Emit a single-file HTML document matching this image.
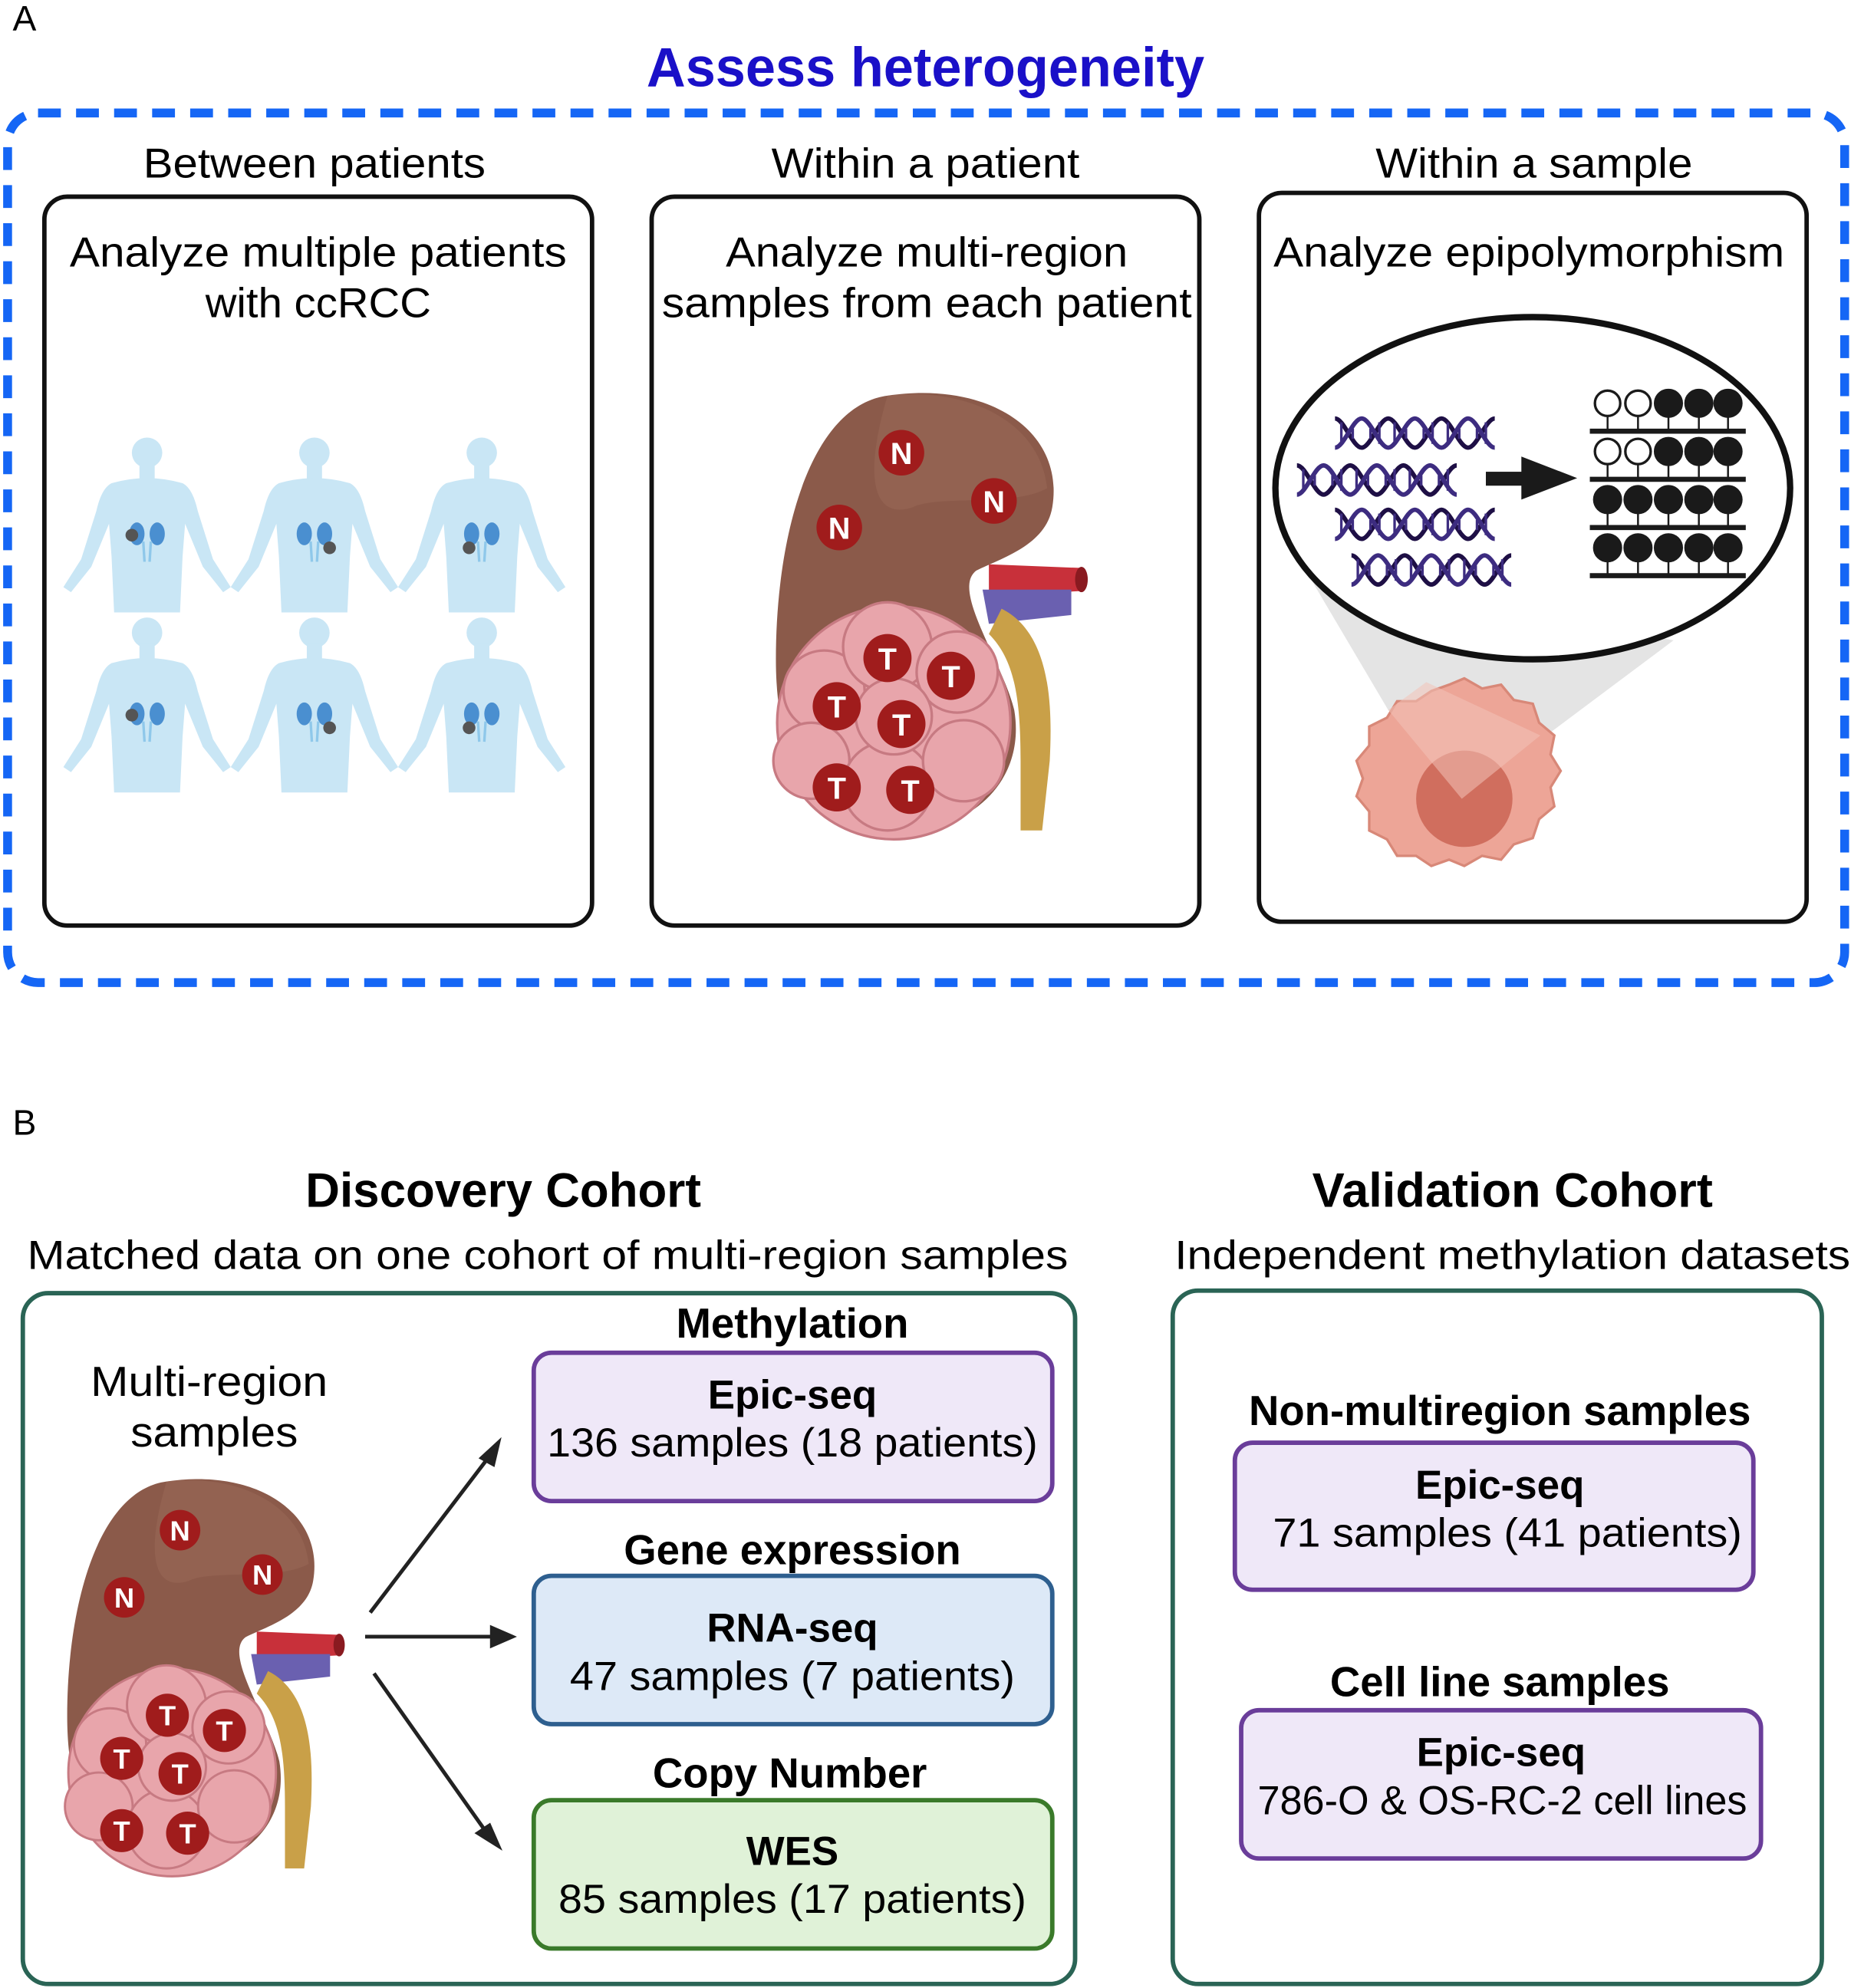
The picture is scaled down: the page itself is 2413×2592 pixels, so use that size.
<!DOCTYPE html>
<html><head><meta charset="utf-8"><style>
html,body{margin:0;padding:0;background:#fff;}
svg{display:block;}
text{font-family:"Liberation Sans",sans-serif;}
</style></head><body>
<svg width="2413" height="2592" viewBox="0 0 1460 1568" xmlns="http://www.w3.org/2000/svg">
<defs>
  <g id="human" fill="#c9e6f5">
    <circle cx="0" cy="14" r="12"/>
    <rect x="-6" y="22" width="12" height="14"/>
    <path d="M-28,38 Q0,30 28,38 Q36,42 40,60 L52,98 L66,120 L60,124 L44,104 L30,70 L28,96 L26,140 L-26,140 L-28,96 L-30,70 L-44,104 L-60,124 L-66,120 L-52,98 L-40,60 Q-36,42 -28,38 Z"/>
    <ellipse cx="-8" cy="78" rx="6" ry="9" fill="#4a8fd0"/>
    <ellipse cx="8" cy="78" rx="6" ry="9" fill="#4a8fd0"/>
    <path d="M-3,84 L-2,100 M3,84 L2,100" stroke="#8fc8ea" stroke-width="2" fill="none"/>
  </g>
  <g id="kidney">
    <path d="M780,445 L855,448 L855,466 L780,470 Z" fill="#c8303a"/>
    <ellipse cx="853" cy="457" rx="5" ry="10" fill="#8a1a20"/>
    <path d="M775,465 L845,465 L845,485 L780,492 Z" fill="#6a60b0"/>
    <path d="M790,480 C830,500 830,560 828,600 L822,655 L805,655 L805,600 C805,550 800,520 780,500 Z" fill="#c9a048"/>
    <path d="M700,312 C780,300 840,340 830,400 C825,430 790,440 770,450 C750,465 790,520 800,560 C810,620 760,660 700,655 C640,650 612,600 612,520 C612,420 640,320 700,312 Z" fill="#8b5a4a"/>
    <path d="M700,312 C760,305 820,330 826,385 C800,400 740,390 720,400 C690,410 680,380 700,312 Z" fill="#9c6a58" opacity="0.5"/>
    <g fill="#e8a5ab" stroke="#c77a82" stroke-width="2">
      <circle cx="705" cy="570" r="92"/>
      <circle cx="650" cy="545" r="32"/><circle cx="700" cy="510" r="35"/><circle cx="755" cy="530" r="32"/>
      <circle cx="640" cy="600" r="30"/><circle cx="700" cy="620" r="35"/><circle cx="760" cy="600" r="32"/>
      <circle cx="705" cy="565" r="30"/>
    </g>
  </g>
  <g id="dna" fill="none" stroke-width="3.5">
    <path d="M0,2 C7,2 14,25 21,25 C28,25 35,2 42,2 C49,2 56,25 63,25 C70,25 77,2 84,2 C91,2 98,25 105,25 C112,25 119,2 126,2" stroke="#1e0f45"/>
    <path d="M0,25 C7,25 14,2 21,2 C28,2 35,25 42,25 C49,25 56,2 63,2 C70,2 77,25 84,25 C91,25 98,2 105,2 C112,2 119,25 126,25" stroke="#3d2c80"/>
    <path d="M5,5V22M14,10V18M28,10V18M35,5V22M47,5V22M56,10V18M70,10V18M77,5V22M89,5V22M98,10V18M112,10V18M119,5V22" stroke="#3d2c80" stroke-width="2"/>
  </g>
</defs>

<!-- A -->
<text x="10" y="24" font-size="28">A</text>
<text x="730" y="68" font-size="44" font-weight="bold" fill="#1a10c8" text-anchor="middle" textLength="440" lengthAdjust="spacingAndGlyphs">Assess heterogeneity</text>
<rect x="6" y="89" width="1449" height="686" rx="24" fill="none" stroke="#1566f5" stroke-width="7" stroke-dasharray="18 12"/>

<g font-size="33" text-anchor="middle" lengthAdjust="spacingAndGlyphs">
<text x="248" y="140" textLength="270" lengthAdjust="spacingAndGlyphs">Between patients</text>
<text x="730" y="140" textLength="243" lengthAdjust="spacingAndGlyphs">Within a patient</text>
<text x="1210" y="140" textLength="250" lengthAdjust="spacingAndGlyphs">Within a sample</text>
</g>
<g fill="none" stroke="#111" stroke-width="3.5">
<rect x="35" y="155" width="432" height="575" rx="18"/>
<rect x="514" y="155" width="432" height="575" rx="18"/>
<rect x="993" y="152" width="432" height="575" rx="18"/>
</g>
<g font-size="33" text-anchor="middle">
<text x="251" y="210" textLength="392" lengthAdjust="spacingAndGlyphs">Analyze multiple patients</text>
<text x="251" y="250" textLength="178" lengthAdjust="spacingAndGlyphs">with ccRCC</text>
<text x="731" y="210" textLength="317" lengthAdjust="spacingAndGlyphs">Analyze multi-region</text>
<text x="731" y="250" textLength="418" lengthAdjust="spacingAndGlyphs">samples from each patient</text>
<text x="1206" y="210" textLength="403" lengthAdjust="spacingAndGlyphs">Analyze epipolymorphism</text>
</g>

<use href="#human" x="116" y="343"/><use href="#human" x="248" y="343"/><use href="#human" x="380" y="343"/>
<use href="#human" x="116" y="485"/><use href="#human" x="248" y="485"/><use href="#human" x="380" y="485"/>
<g fill="#555"><circle cx="104" cy="422" r="5"/><circle cx="260" cy="432" r="5"/><circle cx="370" cy="432" r="5"/><circle cx="104" cy="564" r="5"/><circle cx="260" cy="574" r="5"/><circle cx="370" cy="574" r="5"/></g>

<use href="#kidney"/>
<g font-size="24" font-weight="bold" fill="#fff" text-anchor="middle">
<g fill="#a01c1c"><circle cx="711" cy="357" r="18"/><circle cx="784" cy="395" r="18"/><circle cx="662" cy="416" r="18"/>
<circle cx="700" cy="519" r="19"/><circle cx="750" cy="533" r="19"/><circle cx="660" cy="557" r="19"/><circle cx="711" cy="571" r="19"/><circle cx="660" cy="621" r="19"/><circle cx="718" cy="623" r="19"/></g>
<text x="711" y="366">N</text><text x="784" y="404">N</text><text x="662" y="425">N</text>
<text x="700" y="528">T</text><text x="750" y="542">T</text><text x="660" y="566">T</text><text x="711" y="580">T</text><text x="660" y="630">T</text><text x="718" y="632">T</text>
</g>

<!-- panel 3 -->
<polygon points="1030,450 1320,505 1153,630 1095,560" fill="#e4e4e4"/>
<path d="M1143,540 l12,-5 l14,8 l15,-3 l10,12 l15,3 l5,15 l12,10 l-3,15 l8,13 l-8,13 l3,15 l-12,10 l-5,15 l-15,5 l-10,12 l-15,-3 l-14,8 l-12,-5 l-14,5 l-12,-8 l-15,0 l-8,-13 l-14,-7 l0,-15 l-10,-12 l5,-14 l-5,-14 l10,-12 l0,-15 l14,-7 l8,-13 l15,0 l12,-8 Z" fill="#eda597" stroke="#d88878" stroke-width="2"/>
<circle cx="1155" cy="630" r="38" fill="#d06e5e"/>
<polygon points="1095,560 1125,538 1215,580 1153,630" fill="#f3c3b8" opacity="0.55"/>
<ellipse cx="1209" cy="385" rx="203" ry="135" fill="#fff" stroke="#111" stroke-width="5"/>
<use href="#dna" x="1053" y="328"/><use href="#dna" x="1023" y="365"/><use href="#dna" x="1053" y="400"/><use href="#dna" x="1066" y="436"/>
<rect x="1172" y="372" width="38" height="11" fill="#1a1a1a"/>
<polygon points="1200,360 1244,377 1200,394" fill="#1a1a1a"/>
<g fill="#1a1a1a" stroke="#1a1a1a">
  <g stroke-width="4"><line x1="1254" y1="340" x2="1377" y2="340"/><line x1="1254" y1="378" x2="1377" y2="378"/><line x1="1254" y1="416" x2="1377" y2="416"/><line x1="1254" y1="454" x2="1377" y2="454"/></g>
  <g stroke-width="1.5">
   <path d="M1268,322V340M1292,322V340M1316,322V340M1340,322V340M1363,322V340M1268,360V378M1292,360V378M1316,360V378M1340,360V378M1363,360V378M1268,398V416M1292,398V416M1316,398V416M1340,398V416M1363,398V416M1268,436V454M1292,436V454M1316,436V454M1340,436V454M1363,436V454"/>
  </g>
  <circle cx="1268" cy="318" r="10" fill="#fff" stroke-width="2"/><circle cx="1292" cy="318" r="10" fill="#fff" stroke-width="2"/>
  <circle cx="1316" cy="318" r="11"/><circle cx="1340" cy="318" r="11"/><circle cx="1363" cy="318" r="11"/>
  <circle cx="1268" cy="356" r="10" fill="#fff" stroke-width="2"/><circle cx="1292" cy="356" r="10" fill="#fff" stroke-width="2"/>
  <circle cx="1316" cy="356" r="11"/><circle cx="1340" cy="356" r="11"/><circle cx="1363" cy="356" r="11"/>
  <circle cx="1268" cy="394" r="11"/><circle cx="1292" cy="394" r="11"/><circle cx="1316" cy="394" r="11"/><circle cx="1340" cy="394" r="11"/><circle cx="1363" cy="394" r="11"/>
  <circle cx="1268" cy="432" r="11"/><circle cx="1292" cy="432" r="11"/><circle cx="1316" cy="432" r="11"/><circle cx="1340" cy="432" r="11"/><circle cx="1363" cy="432" r="11"/>
</g>

<!-- B -->
<text x="10" y="895" font-size="28">B</text>
<text x="397" y="952" font-size="38" font-weight="bold" text-anchor="middle" textLength="312" lengthAdjust="spacingAndGlyphs">Discovery Cohort</text>
<text x="432" y="1001" font-size="32" text-anchor="middle" textLength="821" lengthAdjust="spacingAndGlyphs">Matched data on one cohort of multi-region samples</text>
<text x="1193" y="952" font-size="38" font-weight="bold" text-anchor="middle" textLength="316" lengthAdjust="spacingAndGlyphs">Validation Cohort</text>
<text x="1193" y="1001" font-size="32" text-anchor="middle" textLength="533" lengthAdjust="spacingAndGlyphs">Independent methylation datasets</text>
<rect x="18" y="1020" width="830" height="545" rx="20" fill="none" stroke="#2a6455" stroke-width="3.5"/>
<rect x="925" y="1018" width="512" height="547" rx="20" fill="none" stroke="#2a6455" stroke-width="3.5"/>

<text x="165" y="1101" font-size="33" text-anchor="middle" textLength="187" lengthAdjust="spacingAndGlyphs">Multi-region</text>
<text x="169" y="1141" font-size="33" text-anchor="middle" textLength="132" lengthAdjust="spacingAndGlyphs">samples</text>
<use href="#kidney" transform="translate(53,1165) scale(0.89) translate(-612,-308)"/>
<g font-size="22" font-weight="bold" fill="#fff" text-anchor="middle">
<g fill="#a01c1c"><circle cx="142" cy="1207" r="16"/><circle cx="207" cy="1242" r="16"/><circle cx="98" cy="1260" r="16"/>
<circle cx="132" cy="1353" r="17"/><circle cx="177" cy="1365" r="17"/><circle cx="96" cy="1387" r="17"/><circle cx="142" cy="1399" r="17"/><circle cx="96" cy="1444" r="17"/><circle cx="148" cy="1446" r="17"/></g>
<text x="142" y="1215">N</text><text x="207" y="1250">N</text><text x="98" y="1268">N</text>
<text x="132" y="1361">T</text><text x="177" y="1373">T</text><text x="96" y="1395">T</text><text x="142" y="1407">T</text><text x="96" y="1452">T</text><text x="148" y="1454">T</text>
</g>

<g stroke="#222" stroke-width="3" fill="#222">
<line x1="292" y1="1272" x2="385" y2="1150"/><polygon points="393,1138 380,1150 389,1155" />
<line x1="288" y1="1291" x2="390" y2="1291"/><polygon points="404,1291 388,1284 388,1298"/>
<line x1="295" y1="1320" x2="382" y2="1443"/><polygon points="393,1456 377,1446 386,1440"/>
</g>

<g font-size="33" text-anchor="middle" font-weight="bold">
<text x="625" y="1055">Methylation</text>
<text x="625" y="1234">Gene expression</text>
<text x="623" y="1410">Copy Number</text>
<text x="1183" y="1124">Non-multiregion samples</text>
<text x="1183" y="1338">Cell line samples</text>
</g>
<rect x="421" y="1067" width="409" height="117" rx="14" fill="#efe8f8" stroke="#6a3d9a" stroke-width="3.5"/>
<rect x="421" y="1243" width="409" height="117" rx="14" fill="#dde9f7" stroke="#2e5f8f" stroke-width="3.5"/>
<rect x="421" y="1420" width="409" height="117" rx="14" fill="#e0f2d8" stroke="#3a7a2a" stroke-width="3.5"/>
<rect x="974" y="1138" width="409" height="116" rx="14" fill="#efe8f8" stroke="#6a3d9a" stroke-width="3.5"/>
<rect x="979" y="1349" width="410" height="117" rx="14" fill="#efe8f8" stroke="#6a3d9a" stroke-width="3.5"/>
<g font-size="32" text-anchor="middle">
<text x="625" y="1111" font-weight="bold">Epic-seq</text><text x="625" y="1149" textLength="387" lengthAdjust="spacingAndGlyphs">136 samples (18 patients)</text>
<text x="625" y="1295" font-weight="bold">RNA-seq</text><text x="625" y="1333" textLength="351" lengthAdjust="spacingAndGlyphs">47 samples (7 patients)</text>
<text x="625" y="1471" font-weight="bold">WES</text><text x="625" y="1509" textLength="369" lengthAdjust="spacingAndGlyphs">85 samples (17 patients)</text>
<text x="1183" y="1182" font-weight="bold">Epic-seq</text><text x="1189" y="1220" textLength="370" lengthAdjust="spacingAndGlyphs">71 samples (41 patients)</text>
<text x="1184" y="1393" font-weight="bold">Epic-seq</text><text x="1185" y="1431" textLength="386" lengthAdjust="spacingAndGlyphs">786-O &amp; OS-RC-2 cell lines</text>
</g>
</svg>
</body></html>
